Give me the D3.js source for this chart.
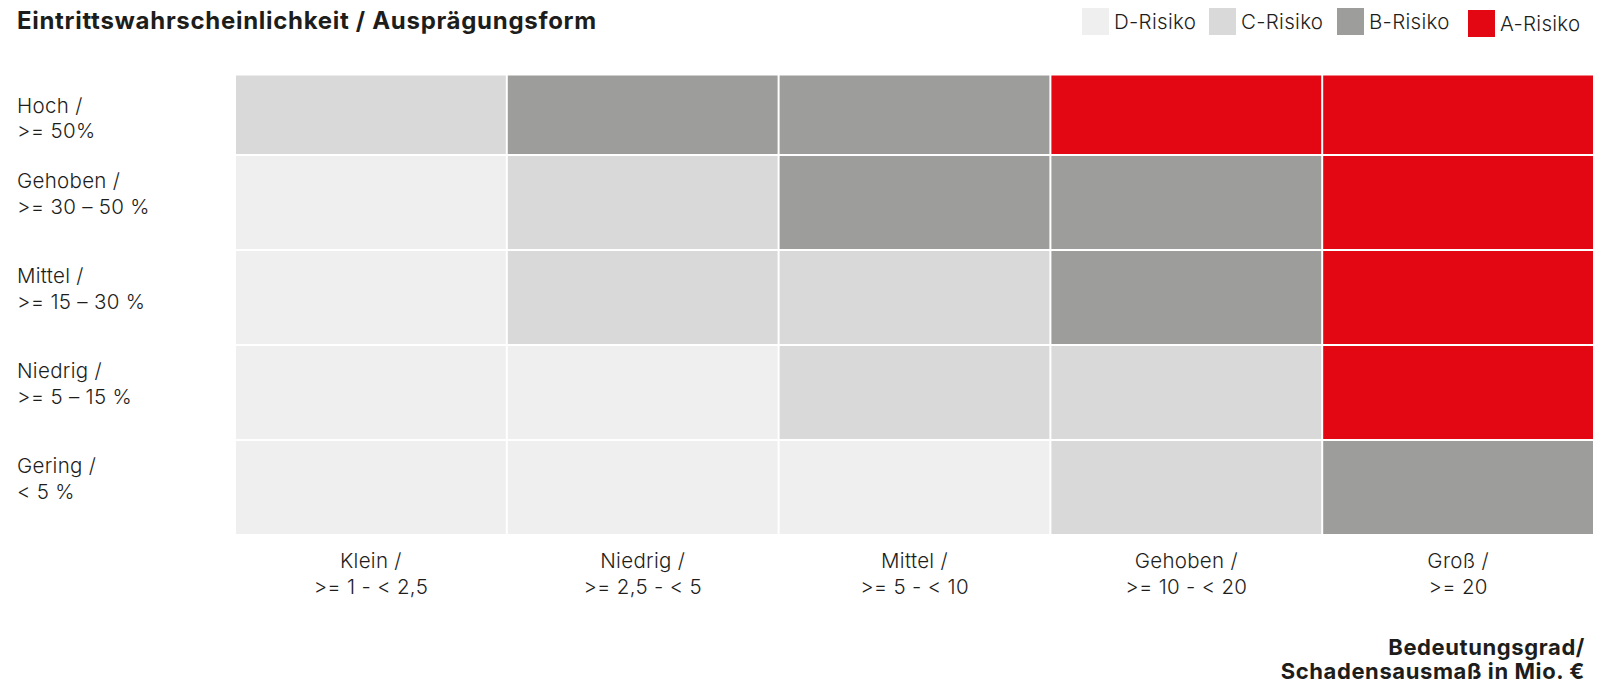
<!DOCTYPE html>
<html>
<head>
<meta charset="utf-8">
<script src="https://cdn.jsdelivr.net/npm/d3@7"></script>
<style>
  body { margin: 0; background: #fff; }
  text { font-family: Inter, "Noto Sans", sans-serif; fill: #1d1d1b; }
</style>
</head>
<body>
<script>
// rows top to bottom (Eintrittswahrscheinlichkeit)
const rowNames = ["Hoch /", "Gehoben /", "Mittel /", "Niedrig /", "Gering /"];
const rowRanges = [">= 50%", ">= 30 – 50 %", ">= 15 – 30 %", ">= 5 – 15 %", "< 5 %"];
// columns left to right (Schadensausmaß)
const colNames = ["Klein /", "Niedrig /", "Mittel /", "Gehoben /", "Groß /"];
const colRanges = [">= 1 - < 2,5", ">= 2,5 - < 5", ">= 5 - < 10", ">= 10 - < 20", ">= 20"];
// risk class per cell, one array per row
const riskMatrix = [
  ["C", "B", "B", "A", "A"],
  ["D", "C", "B", "B", "A"],
  ["D", "C", "C", "B", "A"],
  ["D", "D", "C", "C", "A"],
  ["D", "D", "D", "C", "B"]
];
const legendKeys = ["D", "C", "B", "A"];
const legendLabels = ["D-Risiko", "C-Risiko", "B-Risiko", "A-Risiko"];

const W = 1603, H = 683;
const gridTop = 75.6, gridBottom = 534, gridLeft = 235, gridRight = 1594;

const svg = d3.select("body").append("svg")
  .attr("width", W)
  .attr("height", H);

const color = d3.scaleOrdinal()
  .domain(["D", "C", "B", "A"])
  .range(["#efefef", "#d9d9d9", "#9d9d9c", "#e30613"]);

const x = d3.scaleBand().domain(colNames).range([gridLeft, gridRight]);
// top row is cut off by the grid top, so the band starts a bit higher
const y = d3.scaleBand().domain(rowNames).range([60, gridBottom + 1]);

svg.append("clipPath").attr("id", "gridclip")
  .append("rect")
  .attr("x", gridLeft).attr("y", gridTop)
  .attr("width", gridRight - gridLeft).attr("height", gridBottom - gridTop);

const cells = [];
riskMatrix.forEach((row, i) => row.forEach((r, j) => cells.push({ row: rowNames[i], col: colNames[j], risk: r })));

svg.append("g")
  .attr("clip-path", "url(#gridclip)")
  .selectAll("rect")
  .data(cells)
  .enter()
  .append("rect")
  .attr("x", d => x(d.col) + 1)
  .attr("y", d => y(d.row) + 1)
  .attr("width", x.bandwidth() - 2)
  .attr("height", y.bandwidth() - 2)
  .attr("fill", d => color(d.risk));

// title
svg.append("text")
  .attr("x", 17).attr("y", 29)
  .style("font-size", "24px")
  .style("font-weight", 700)
  .style("letter-spacing", "0.7px")
  .text("Eintrittswahrscheinlichkeit / Ausprägungsform");

// row labels
const rowLab = svg.append("g").selectAll("text")
  .data(rowNames)
  .enter()
  .append("text")
  .attr("x", 17)
  .attr("y", (d, i) => Math.max(y(d), gridTop) + (i === 0 ? 37 : 33))
  .style("font-size", "20.5px")
  .style("font-weight", 300)
  .style("letter-spacing", "0.3px");
rowLab.append("tspan").text(d => d);
rowLab.append("tspan").attr("x", 17).attr("dy", 25.5).text((d, i) => rowRanges[i]);

// column labels
const colLab = svg.append("g").selectAll("text")
  .data(colNames)
  .enter()
  .append("text")
  .attr("text-anchor", "middle")
  .attr("y", gridBottom + 34)
  .style("font-size", "20.5px")
  .style("font-weight", 300)
  .style("letter-spacing", "0.3px");
colLab.append("tspan").attr("x", d => x(d) + x.bandwidth() / 2).text(d => d);
colLab.append("tspan").attr("x", d => x(d) + x.bandwidth() / 2).attr("dy", 25.5).text((d, i) => colRanges[i]);

// axis title bottom right
const axTitle = svg.append("text")
  .attr("text-anchor", "end")
  .attr("y", 655)
  .style("font-size", "22px")
  .style("font-weight", 700)
  .style("letter-spacing", "0.6px");
axTitle.append("tspan").attr("x", 1585).text("Bedeutungsgrad/");
axTitle.append("tspan").attr("x", 1585).attr("dy", 23.5).text("Schadensausmaß in Mio. €");

// legend
const legX = [1082, 1209, 1337, 1468];
const leg = svg.append("g").selectAll("g")
  .data(legendKeys)
  .enter()
  .append("g")
  .attr("transform", (d, i) => `translate(${legX[i]},${d === "A" ? 10 : 8})`);
leg.append("rect")
  .attr("width", 27).attr("height", 27)
  .attr("fill", d => color(d));
leg.append("text")
  .attr("x", 32).attr("y", 21)
  .style("font-size", "20.5px")
  .style("font-weight", 300)
  .style("letter-spacing", "0.3px")
  .text((d, i) => legendLabels[i]);
</script>
</body>
</html>
